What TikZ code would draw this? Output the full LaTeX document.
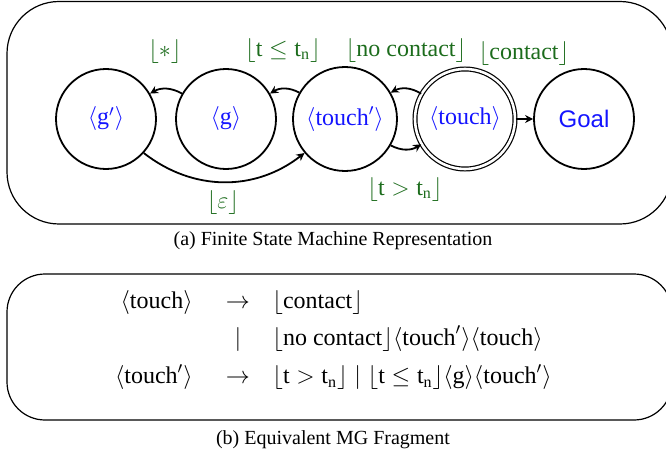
\documentclass[tikz,border=0pt]{standalone}
\usepackage{amsmath}
\usepackage{fontspec}
\setmainfont{Liberation Serif}
\setsansfont{Liberation Sans}
\usetikzlibrary{arrows.meta}
\definecolor{lblgreen}{RGB}{28,108,28}
\definecolor{stblue}{RGB}{20,20,255}
\tikzset{
  boxline/.style={draw, line width=0.6pt},
  state/.style={circle, draw, line width=0.9pt, minimum size=50pt, inner sep=1pt,
    text=stblue, font=\fontsize{12}{14}\selectfont},
  final/.style={state, double, double distance=1.3pt, line width=0.6pt},
  lbl/.style={text=lblgreen, font=\fontsize{12}{14}\selectfont, inner sep=0pt},
  tr/.style={line width=0.9pt, -{Stealth[length=4pt,width=4pt]}},
  captext/.style={font=\fontsize{10}{12}\selectfont, inner sep=0pt},
  gram/.style={font=\fontsize{12}{14}\selectfont, inner sep=0pt, anchor=base}
}
\begin{document}
\begin{tikzpicture}[x=0.5pt,y=-0.5pt]
\useasboundingbox (0,0) rectangle (666,455);
% frames
\draw[boxline, rounded corners=26pt] (7,1.5) rectangle (672,224);
\draw[boxline, rounded corners=19pt] (7,274) rectangle (672,420);
% states
\node[state] (gp) at (106,119) {$\langle\mathrm{g}'\rangle$};
\node[state] (g) at (226,119) {$\langle\mathrm{g}\rangle$};
\node[state, minimum size=52pt] (tp) at (345,119) {$\langle\textrm{touch}'\rangle$};
\node[final] (t) at (465,119) {$\langle\textrm{touch}\rangle$};
\node[state] (goal) at (584,119) {\sffamily Goal};
% transitions
\draw[tr] (g.150) to[bend right=30] (gp.30);
\draw[tr] (tp.150) to[bend right=30] (g.30);
\draw[tr] (t.150) to[bend right=30] (tp.30);
\draw[tr] (tp.-30) to[bend right=30] (t.210);
\draw[tr] (gp.-42) to[bend right=38] (tp.220);
\draw[tr] (t) -- (goal);
% labels
\node[lbl] (l1) at (165,51) {$\lfloor\ast\rfloor$};
\node[lbl] (l2) at (283,50) {$\lfloor\mathrm{t}\leq\mathrm{t}_\mathrm{n}\rfloor$};
\node[lbl] (l3) at (406,50) {$\lfloor\textrm{no contact}\rfloor$};
\node[lbl] (l4) at (524,54) {$\lfloor\textrm{contact}\rfloor$};
\node[lbl] (l5) at (405,189) {$\lfloor\mathrm{t}>\mathrm{t}_\mathrm{n}\rfloor$};
\node[lbl] (l6) at (223,202) {$\lfloor\varepsilon\rfloor$};
% caption a
\node[captext] (capa) at (333,241) {(a) Finite State Machine Representation};
% grammar
\node[gram, anchor=base east] (r1a) at (193,308) {$\langle\textrm{touch}\rangle$};
\node[gram] (r1b) at (238,308) {$\rightarrow$};
\node[gram, anchor=base west] (r1c) at (272,308) {$\lfloor\textrm{contact}\rfloor$};
\node[gram] (r2b) at (238,345) {$|$};
\node[gram, anchor=base west] (r2c) at (272,345) {$\lfloor\textrm{no contact}\rfloor\langle\textrm{touch}'\rangle\langle\textrm{touch}\rangle$};
\node[gram, anchor=base east] (r3a) at (193,384) {$\langle\textrm{touch}'\rangle$};
\node[gram] (r3b) at (238,384) {$\rightarrow$};
\node[gram, anchor=base west] (r3c) at (272,384) {$\lfloor\mathrm{t}>\mathrm{t}_\mathrm{n}\rfloor\;|\;\lfloor\mathrm{t}\leq\mathrm{t}_\mathrm{n}\rfloor\langle\mathrm{g}\rangle\langle\textrm{touch}'\rangle$};
% caption b
\node[captext] (capb) at (333,440) {(b) Equivalent MG Fragment};
\end{tikzpicture}
\end{document}
